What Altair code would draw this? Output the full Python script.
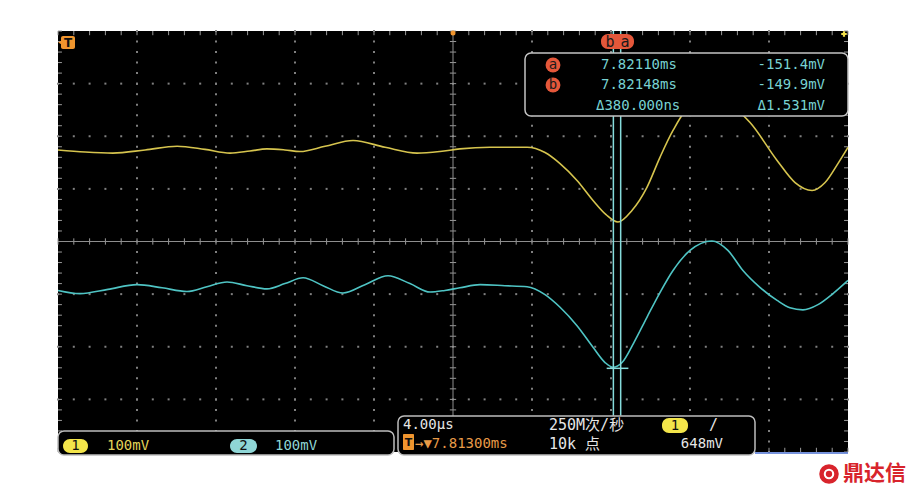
import altair as alt
import pandas as pd

# ---- data (time in µs, 4 µs/div; voltage in mV, 100 mV/div) ----
t_ch1 = [-20.0, -18.63, -17.22, -15.59, -13.97, -12.56, -11.29, -10.28, -9.42, -8.51, -7.75,
         -6.48, -5.06, -3.44, -1.82, -0.66, 0.35, 1.87, 3.75, 4.66, 5.42, 6.28, 7.09, 7.75,
         8.35, 9.06, 9.82, 10.48, 11.14, 12.0, 13.11, 14.28, 15.04, 16.41, 17.32, 18.18,
         18.84, 19.49, 20.0]
v_ch1 = [174, 170, 168, 174, 181, 175, 168, 172, 176, 174, 171, 181, 192, 179, 168, 171, 176,
         179, 179, 169, 148, 116, 78, 51, 37, 59, 103, 160, 211, 257, 268, 253, 226, 154, 112,
         97, 112, 148, 179]

t_ch2 = [-20.0, -18.89, -17.47, -16.0, -14.73, -13.47, -12.46, -11.44, -10.43, -9.42, -8.51,
         -7.59, -6.58, -5.57, -4.46, -3.29, -2.18, -1.16, -0.41, 0.35, 1.37, 2.63, 3.75, 4.66,
         5.42, 6.28, 7.09, 7.70, 8.10, 8.56, 9.16, 9.82, 10.48, 11.14, 12.0, 13.11, 13.92,
         14.68, 15.54, 16.41, 17.06, 17.72, 18.48, 19.24, 20.0]
v_ch2 = [-93, -99, -91, -82, -88, -95, -86, -77, -84, -90, -80, -69, -84, -98, -82, -65, -80,
         -96, -93, -88, -82, -84, -86, -101, -125, -160, -201, -230, -239, -230, -192, -144,
         -97, -55, -17, 1, -17, -55, -87, -112, -126, -130, -120, -99, -74]

cursor_t = [8.12, 8.49]          # cursor a / b positions (µs)
cursor_level = -241              # horizontal cursor mark on CH2 (mV)
cursor_span = [7.78, 8.88]

meas_rows = [["a", "7.82110ms", "-151.4mV"], ["b", "7.82148ms", "-149.9mV"],
             ["", "Δ380.000ns", "Δ1.531mV"]]

T_MIN, T_MAX, V_MIN, V_MAX = -20, 20, -400, 400
W, H = 790, 421

YEL = "#d6c44e"
CYN = "#4fc4c4"
TXT_C = "#78d2d2"
GRID = "#808080"
MONO = "DejaVu Sans Mono, 'Noto Sans CJK SC'"

xs = alt.Scale(domain=[T_MIN, T_MAX], nice=False, zero=False)
ys = alt.Scale(domain=[V_MIN, V_MAX], nice=False, zero=False)
X = lambda f: alt.X(f, type="quantitative", scale=xs, axis=None)
Y = lambda f: alt.Y(f, type="quantitative", scale=ys, axis=None)

# ---- graticule ----
minor_t = [T_MIN + i * 0.8 for i in range(51)]
minor_v = [V_MIN + i * 20 for i in range(41)]
dots = []
for v in [-300, -200, -100, 100, 200, 300]:
    for t in minor_t:
        dots.append({"t": t, "v": v})
for t in [-16, -12, -8, -4, 4, 8, 12, 16]:
    for v in minor_v:
        dots.append({"t": t, "v": v})
grid = alt.Chart(pd.DataFrame(dots)).mark_square(size=4, color=GRID, opacity=1).encode(
    x=X("t"), y=Y("v"))

ticks = []
for t in minor_t:
    ticks.append({"t": t, "t2": t, "v": -6, "v2": 6})
    ticks.append({"t": t, "t2": t, "v": V_MAX, "v2": V_MAX - 8})
    ticks.append({"t": t, "t2": t, "v": V_MIN, "v2": V_MIN + 8})
for v in minor_v:
    ticks.append({"t": -0.16, "t2": 0.16, "v": v, "v2": v})
    ticks.append({"t": T_MIN, "t2": T_MIN + 0.2, "v": v, "v2": v})
    ticks.append({"t": T_MAX, "t2": T_MAX - 0.2, "v": v, "v2": v})
tick_layer = alt.Chart(pd.DataFrame(ticks)).mark_rule(color="#9a9a9a", strokeWidth=1).encode(
    x=X("t"), x2="t2", y=Y("v"), y2="v2")

axes_df = pd.DataFrame({"t": [T_MIN, 0], "t2": [T_MAX, 0], "v": [0, V_MIN], "v2": [0, V_MAX]})
center = alt.Chart(axes_df).mark_rule(color="#8e8e8e", strokeWidth=1).encode(
    x=X("t"), x2="t2", y=Y("v"), y2="v2")

# ---- traces ----
ch1 = alt.Chart(pd.DataFrame({"t": t_ch1, "v": v_ch1})).mark_line(
    color=YEL, strokeWidth=1.6, interpolate="monotone").encode(x=X("t"), y=Y("v"))
ch2 = alt.Chart(pd.DataFrame({"t": t_ch2, "v": v_ch2})).mark_line(
    color=CYN, strokeWidth=1.6, interpolate="monotone").encode(x=X("t"), y=Y("v"))

# ---- cursors ----
cur = alt.Chart(pd.DataFrame({"t": cursor_t, "v": [-331, -331], "v2": [V_MAX, V_MAX]})).mark_rule(
    color="#86dcdc", strokeWidth=1.5).encode(x=X("t"), y=Y("v"), y2="v2")
cur_h = alt.Chart(pd.DataFrame({"t": [cursor_span[0]], "t2": [cursor_span[1]],
                                "v": [cursor_level]})).mark_rule(
    color="#86dcdc", strokeWidth=1.5).encode(x=X("t"), x2="t2", y=Y("v"))

one = pd.DataFrame({"k": [0]})


def box(x1, x2, y1, y2, fill="#000000", stroke=None, r=0, sw=1.5):
    kw = dict(fill=fill, cornerRadius=r)
    if stroke:
        kw.update(stroke=stroke, strokeWidth=sw)
    return alt.Chart(one).mark_rect(**kw).encode(
        x=alt.value(x1), x2=alt.value(x2), y=alt.value(y1), y2=alt.value(y2))


def label(txt, x, y, color, size=14, align="left", font=MONO, weight="normal"):
    return alt.Chart(one).mark_text(text=txt, align=align, baseline="middle", fontSize=size,
                                    font=font, color=color, fontWeight=weight).encode(
        x=alt.value(x), y=alt.value(y))


def dot(x, y, color, size, shape="circle"):
    return alt.Chart(one).mark_point(shape=shape, filled=True, color=color, size=size,
                                     opacity=1).encode(x=alt.value(x), y=alt.value(y))


RED = "#e4573a"
overlays = [
    # measurement readout
    box(467, 790, 22, 85, stroke="#c4c4c4", r=6),
    box(543, 576, 3, 18, fill=RED, r=7),
    label("b", 552, 10.5, "#1a1a1a", size=15, align="center"),
    label("a", 567, 10.5, "#1a1a1a", size=15, align="center"),
]
row_y = [34, 54, 75]
for (tag, tt, vv), ry in zip(meas_rows, row_y):
    if tag:
        overlays.append(dot(495, ry, RED, 220))
        overlays.append(label(tag, 495, ry - 0.5, "#1a1a1a", size=14, align="center"))
    overlays.append(label(tt, 543 if tag else 538, ry, TXT_C))
    overlays.append(label(vv, 767, ry, TXT_C, align="right"))

overlays += [
    # trigger markers
    box(3, 17, 5, 18, fill="#f0952e", r=2),
    dot(3, 11.5, "#f0952e", 40, shape="triangle-left"),
    label("T", 10, 11.5, "#111111", size=12, font="DejaVu Sans", weight="bold", align="center"),
    dot(395, 2, "#f0952e", 25),
    dot(786, 3, "#f2e04a", 30, shape="cross"),
    # bottom-left channel readout
    box(0, 336, 400, 424, stroke="#bdbdbd", r=6),
    box(5, 30, 408, 422, fill="#f3e54a", r=7),
    label("1", 17.5, 415, "#111111", size=14, align="center"),
    label("100mV", 49, 415, "#e3d45a"),
    box(172, 199, 408, 422, fill="#8fd6d6", r=7),
    label("2", 185.5, 415, "#111111", size=14, align="center"),
    label("100mV", 217, 415, "#8fd6d6"),
    # bottom-right horizontal / trigger readout
    box(340, 697, 385, 424, stroke="#bdbdbd", r=6),
    label("4.00µs", 345, 394, "#e6e6e6"),
    label("250M次/秒", 491, 394, "#e6e6e6", size=15),
    box(604, 630, 387, 402, fill="#f3e54a", r=7),
    label("1", 617, 394.5, "#111111", size=14, align="center"),
    label("/", 651, 394, "#e6e6e6", size=15),
    box(345, 356, 403, 419, fill="#f0952e", r=1),
    label("T", 350.5, 411.5, "#111111", size=11, font="DejaVu Sans", weight="bold",
          align="center"),
    label("→▼7.81300ms", 357, 413, "#e89b48"),
    label("10k 点", 491, 413, "#e6e6e6", size=15),
    label("648mV", 665, 413, "#e6e6e6", align="right"),
    alt.Chart(one).mark_rule(color="#4a6fd0", strokeWidth=1.5).encode(
        x=alt.value(697), x2=alt.value(790), y=alt.value(422)),
    # watermark logo
    dot(771, 443, "#d8242c", 380),
    dot(771, 443, "#ffffff", 110),
    dot(771, 443, "#d8242c", 40),
    label("鼎达信", 785, 443, "#d8242c", size=21, font="'Noto Sans CJK SC'", weight="bold"),
]

chart = alt.layer(grid, tick_layer, center, ch1, ch2, cur, cur_h, *overlays).properties(
    width=W, height=H,
    padding={"left": 50, "top": 23, "right": 64, "bottom": 36},
    autosize=alt.AutoSizeParams(type="none"),
    background="#ffffff",
).configure_view(fill="#000000", stroke=None)

chart.save("out.html", embed_options={"renderer": "svg", "actions": False})
